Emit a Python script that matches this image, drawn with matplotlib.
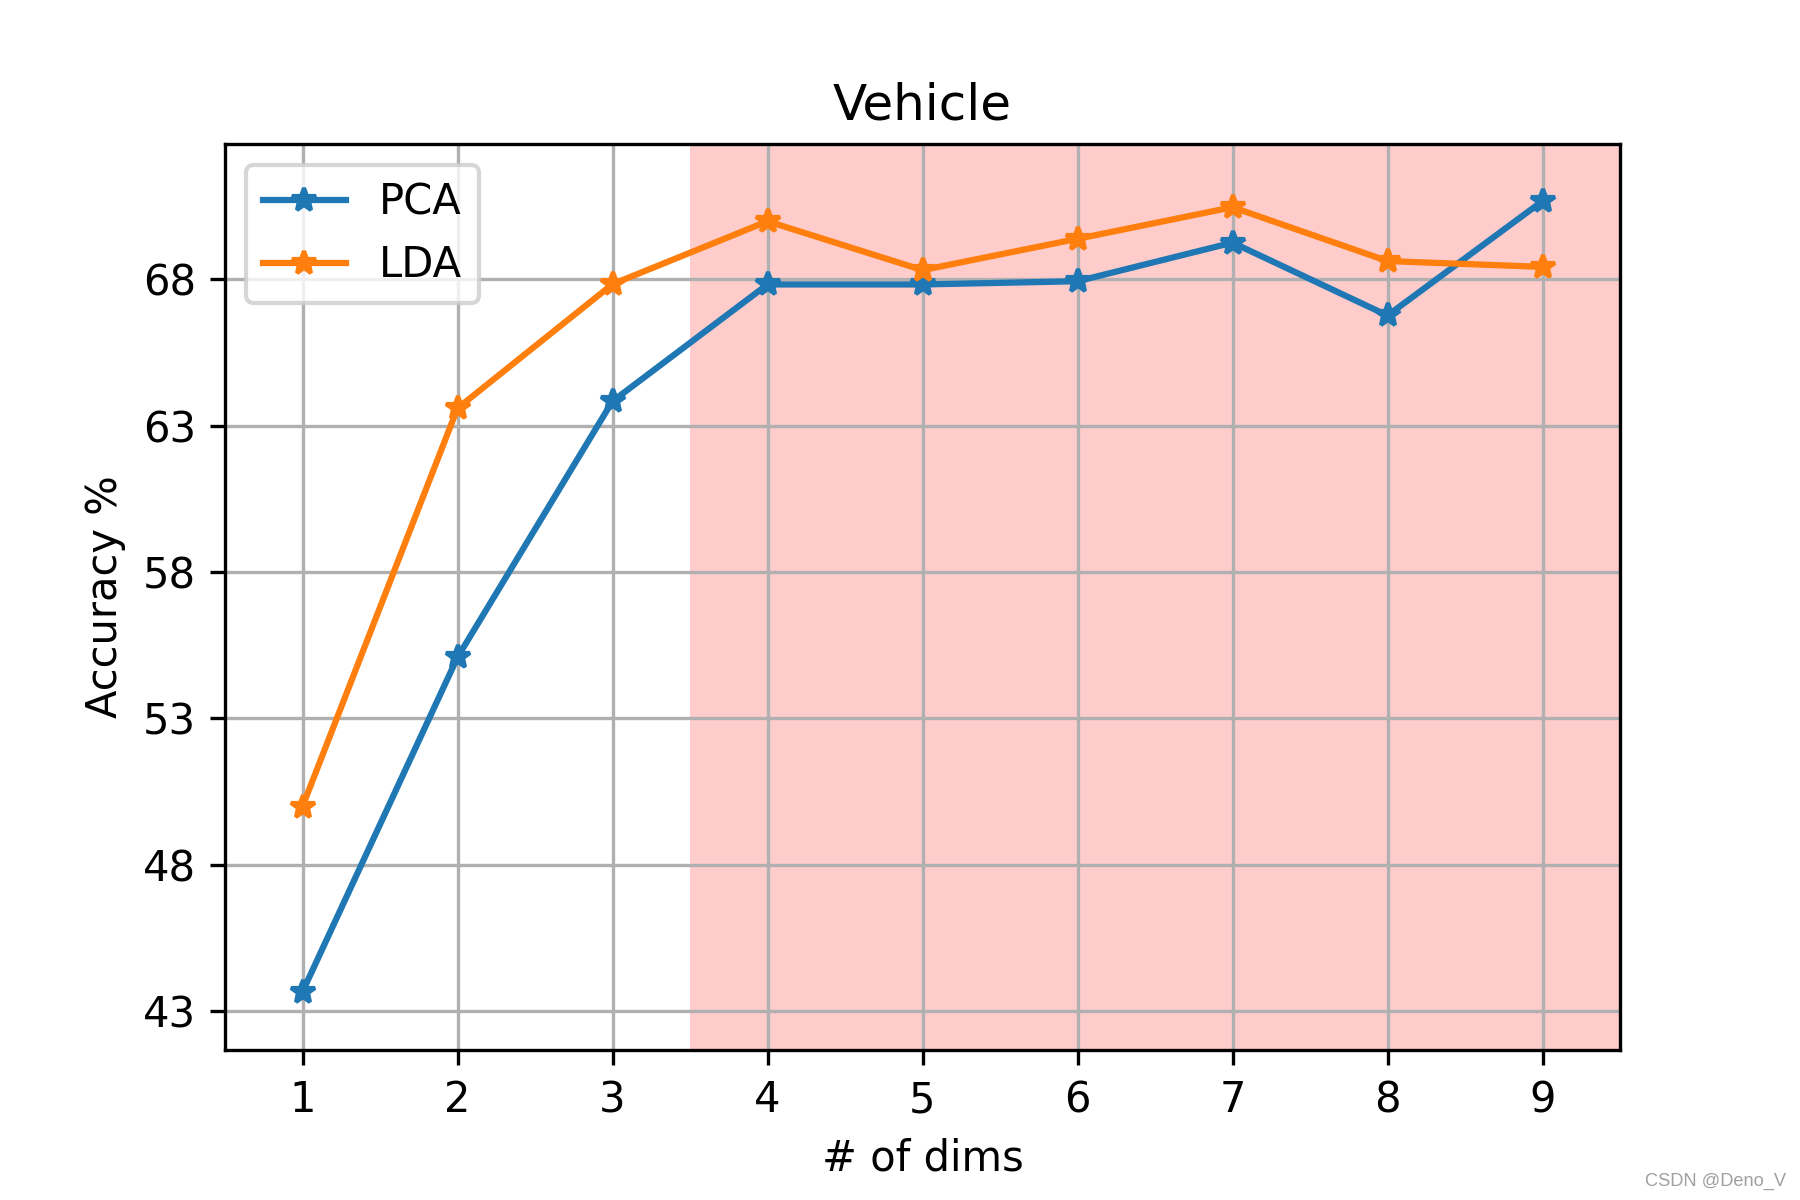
import matplotlib
matplotlib.use("Agg")
import matplotlib.pyplot as plt

# Data
dims = [1, 2, 3, 4, 5, 6, 7, 8, 9]
pca_acc = [43.66, 55.09, 63.84, 67.83, 67.83, 67.94, 69.26, 66.77, 70.68]
lda_acc = [49.99, 63.60, 67.84, 69.99, 68.32, 69.39, 70.47, 68.63, 68.43]
yticks = [43, 48, 53, 58, 63, 68]

fig, ax = plt.subplots(figsize=(6, 4), dpi=300)
fig.subplots_adjust(left=0.125, right=0.9, top=0.88, bottom=0.125)

# shaded region from dim 3.5 onwards
ax.axvspan(3.5, 9.5, color="red", alpha=0.2, lw=0)

ax.plot(dims, pca_acc, marker="*", label="PCA")
ax.plot(dims, lda_acc, marker="*", label="LDA")

ax.set_xlim(0.5, 9.5)
ax.set_ylim(41.67, 72.63)
ax.set_xticks(dims)
ax.set_yticks(yticks)
ax.grid(True, color="#b0b0b0")

ax.set_title("Vehicle")
ax.set_xlabel("# of dims")
ax.set_ylabel("Accuracy %")
ax.legend(loc="upper left", fontsize=10)

fig.text(0.992, 0.008, "CSDN @Deno_V", ha="right", va="bottom",
         fontsize=4.4, color="#a0a0a0", family="Liberation Sans")

fig.savefig("out.png", dpi=300)
